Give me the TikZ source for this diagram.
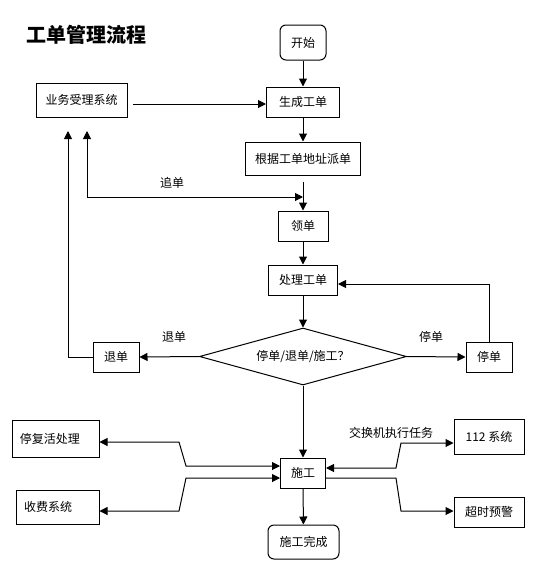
\documentclass[tikz,border=0pt]{standalone}
\usepackage{fontspec}
\usetikzlibrary{arrows.meta,shapes.geometric}
\newfontfamily\cjk{Noto Sans CJK SC}
\tikzset{every picture/.style={line width=0.75pt}}
\tikzset{
	box/.style={draw, inner sep=0pt, font=\cjk\fontsize{9}{11}\selectfont},
	rbox/.style={box, rounded corners=4.5pt},
	lbox/.style={box, align=left, inner xsep=6pt, text width=#1},
	tip/.style={-{Triangle[length=6pt,width=6pt]}},
	tips/.style={{Triangle[length=6pt,width=6pt]}-{Triangle[length=6pt,width=6pt]}},
	lbl/.style={inner sep=0.75pt, font=\cjk\fontsize{9}{11}\selectfont}
}

\begin{document}
\begin{tikzpicture}[x=0.75pt,y=0.75pt,yscale=-1,xscale=1]
				\useasboundingbox (0,0) rectangle (560,568);
				% Text Node
				\node (title) [anchor=west, inner sep=0.75pt, font=\cjk\bfseries\fontsize{15}{18}\selectfont] at (25,35) {工单管理流程};
				%Shape: Rounded Rect
				\node (start) [rbox, minimum width=34.5pt, minimum height=26.25pt] at (303,42.5) {开始};
				%Shape: Rectangle
				\node (make) [box, minimum width=54.75pt, minimum height=22.5pt] at (303,102) {生成工单};
				%Shape: Rectangle
				\node (biz) [box, minimum width=68.25pt, minimum height=25.5pt] at (81.5,100) {业务受理系统};
				%Shape: Rectangle
				\node (dispatch) [box, minimum width=86.25pt, minimum height=24.75pt] at (303,158.5) {根据工单地址派单};
				%Shape: Rectangle
				\node (take) [box, minimum width=37.5pt, minimum height=22.5pt] at (303,226) {领单};
				%Shape: Rectangle
				\node (handle) [box, minimum width=51.75pt, minimum height=22.5pt] at (303,280) {处理工单};
				%Shape: Diamond
				\node (decide) [box, diamond, shape aspect=3.6, minimum width=155.25pt, minimum height=42.75pt] at (303,356.5) {停单/退单/施工？};
				%Shape: Rectangle
				\node (back) [box, minimum width=34.5pt, minimum height=22.5pt] at (116,357) {退单};
				%Shape: Rectangle
				\node (stop) [box, minimum width=34.5pt, minimum height=22.5pt] at (489,357) {停单};
				%Shape: Rectangle
				\node (build) [box, minimum width=33.75pt, minimum height=22.5pt] at (303,473) {施工};
				%Shape: Rounded Rect
				\node (done) [rbox, minimum width=53.25pt, minimum height=25.5pt] at (303.5,542) {施工完成};
				%Shape: Rectangle
				\node (restore) [lbox=53.25pt, minimum height=27.75pt] at (55.5,438.5) {停复活处理};
				%Shape: Rectangle
				\node (fee) [lbox=50.25pt, minimum height=25.5pt] at (57.5,507) {收费系统};
				%Shape: Rectangle
				\node (sys) [box, minimum width=52.5pt, minimum height=26.25pt] at (489,436.5) {112 系统};
				%Shape: Rectangle
				\node (alarm) [box, minimum width=52.5pt, minimum height=22.5pt] at (489,512) {超时预警};

				% Text Node
				\node (chaselbl) [lbl] at (172,183) {追单};
				% Text Node
				\node (backlbl) [lbl] at (174,337) {退单};
				% Text Node
				\node (stoplbl) [lbl] at (431,337) {停单};
				% Text Node
				\node (swlbl) [lbl] at (391,433) {交换机执行任务};

				\coordinate (bizout) at (133,104);
				\coordinate (chase) at (303,197);
				\coordinate (bizin1) at (87,131);
				\coordinate (bizin2) at (68,131);

				%Straight Lines
				\draw [tip] (start) -- (make);
				\draw [tip] (bizout) -- (bizout -| make.west);
				\draw [tip] (make) -- (dispatch);
				\draw [tip] ([yshift=4.5pt]dispatch.south) -- (take);
				\draw [tips] (chase) -| (bizin1);
				\draw [tip] (take) -- (handle);
				\draw [tip] (handle) -- (decide);
				\draw [tip] (decide.west) -- (back.east);
				\draw [tip] (back.west) -| (bizin2);
				\draw [tip] (decide.east) -- (stop.west);
				\draw [tip] (stop.north) |- ([yshift=3pt]handle.east);
				\draw [tip] (decide.south) -- (build.north);
				\draw [tip] (build) -- (done);
				\draw [tips] ([yshift=-5.25pt]build.west) -- (186,466) -- (179,442) -- (restore.east |- 179,442);
				\draw [tips] ([yshift=3.75pt]build.west) -- (186,478) -- (179,511) -- (fee.east |- 179,511);
				\draw [tips] ([yshift=-3.75pt]build.east) -- (396,468) -- (401,443) -- (sys.west |- 401,443);
				\draw [tip] ([yshift=3.75pt]build.east) -- (396,478) -- (401,511) -- (alarm.west |- 401,511);
\end{tikzpicture}
\end{document}
